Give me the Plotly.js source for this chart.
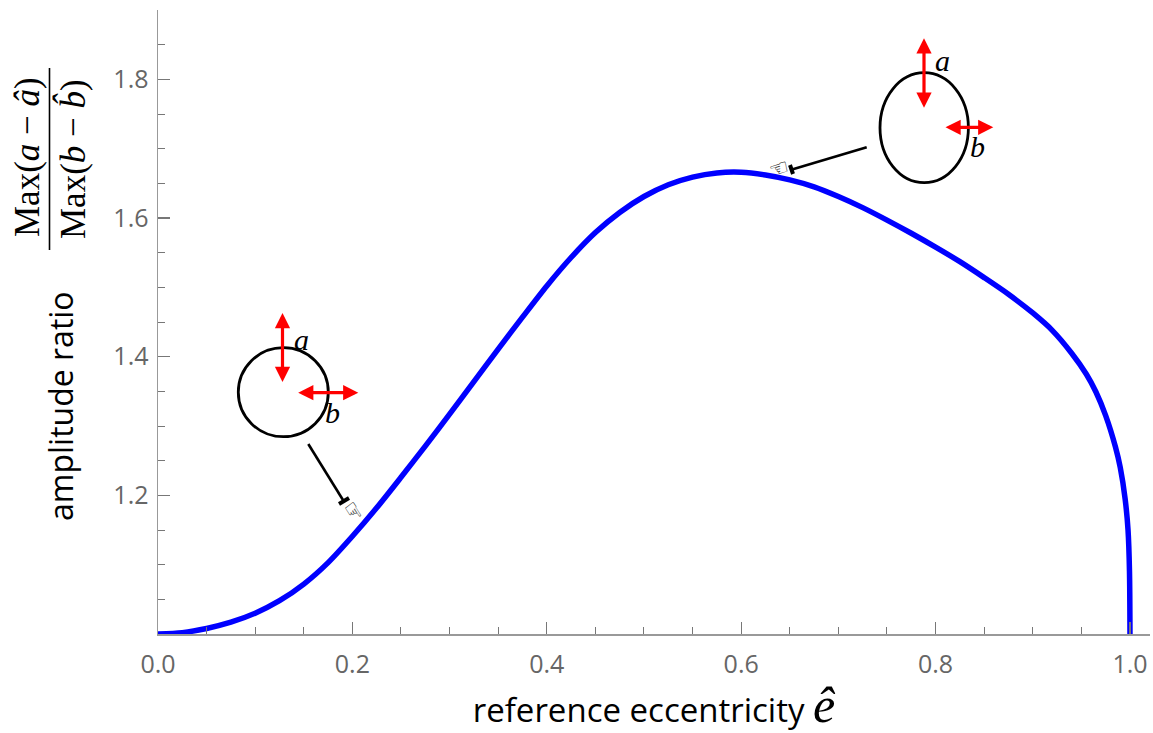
<!DOCTYPE html>
<html>
<head>
<meta charset="utf-8">
<script src="https://cdn.plot.ly/plotly-3.0.1.min.js"></script>
<style>html,body{margin:0;padding:0;background:#fff;}#chart{width:1153px;height:733px;}</style>
</head>
<body>
<div id="chart"></div>
<script>
// reference eccentricity (x) and amplitude ratio (y)
const eccentricity = [0, 0.025, 0.05, 0.075, 0.1, 0.125, 0.15, 0.175, 0.2, 0.225, 0.25, 0.275, 0.3, 0.325, 0.35, 0.375, 0.4, 0.425, 0.45, 0.475, 0.5, 0.525, 0.55, 0.575, 0.6, 0.625, 0.65, 0.675, 0.7, 0.725, 0.75, 0.775, 0.8, 0.825, 0.85, 0.875, 0.9, 0.92, 0.94, 0.955, 0.965, 0.975, 0.985, 0.99, 0.995, 0.998, 0.9995, 1.0];
const amplitudeRatio = [1.000, 1.002, 1.008, 1.017, 1.030, 1.048, 1.072, 1.103, 1.141, 1.182, 1.226, 1.271, 1.317, 1.364, 1.411, 1.457, 1.502, 1.543, 1.579, 1.608, 1.631, 1.648, 1.659, 1.665, 1.666, 1.662, 1.655, 1.645, 1.631, 1.615, 1.597, 1.578, 1.558, 1.537, 1.514, 1.490, 1.463, 1.438, 1.405, 1.375, 1.349, 1.315, 1.270, 1.240, 1.195, 1.150, 1.090, 1.000];
const xTickVals = [0, 0.2, 0.4, 0.6, 0.8, 1.0];
const xTickText = ['0.0', '0.2', '0.4', '0.6', '0.8', '1.0'];
const yTickVals = [1.2, 1.4, 1.6, 1.8];
const yTickText = ['1.2', '1.4', '1.6', '1.8'];

// plot geometry
const W = 1153, H = 733;
const mL = 158, mR = 3, mT = 10, mB = 99;
const xRange = [0, 1.0206], yRange = [1.0, 1.9];
const pw = W - mL - mR, ph = H - mT - mB;
// pixel -> data / paper helpers for decorations
const X = px => xRange[0] + (px - mL) / pw * (xRange[1] - xRange[0]);
const Y = py => yRange[0] + (H - mB - py) / ph * (yRange[1] - yRange[0]);
const PX = px => (px - mL) / pw;
const PY = py => (H - mB - py) / ph;

const serif = 'Liberation Serif, Times New Roman, serif';
const sans = 'Open Sans, Noto Sans, sans-serif';

function redArrow(x0, y0, x1, y1) {
  return {x: X(x1), y: Y(y1), ax: X(x0), ay: Y(y0), xref: 'x', yref: 'y', axref: 'x', ayref: 'y',
    text: '', showarrow: true, arrowside: 'end+start', arrowhead: 2, startarrowhead: 2,
    arrowsize: 0.95, startarrowsize: 0.95, arrowwidth: 3.2, arrowcolor: '#ff0000', standoff: 0, startstandoff: 0};
}
function label(txt, px, py) {
  return {x: X(px), y: Y(py), xref: 'x', yref: 'y', xanchor: 'center', yanchor: 'middle',
    text: '<i>' + txt + '</i>', showarrow: false, font: {family: serif, size: 30, color: '#000'}};
}
function ytitle(txt, px, py, family, size) {
  return {x: PX(px), y: PY(py), xref: 'paper', yref: 'paper', xanchor: 'center', yanchor: 'middle',
    text: txt, showarrow: false, textangle: -90, font: {family: family, size: size, color: '#000'}};
}

const trace = {
  x: eccentricity, y: amplitudeRatio, type: 'scatter', mode: 'lines',
  line: {color: '#0000ff', width: 5.5, shape: 'spline', smoothing: 0.8},
  cliponaxis: false, hoverinfo: 'skip'
};

const layout = {
  width: W, height: H,
  margin: {l: mL, r: mR, t: mT, b: mB, pad: 0},
  paper_bgcolor: '#fff', plot_bgcolor: '#fff',
  showlegend: false,
  xaxis: {
    range: xRange, showgrid: false, zeroline: false,
    showline: true, linecolor: '#999', linewidth: 1.5,
    tickmode: 'array', tickvals: xTickVals, ticktext: xTickText,
    ticks: 'inside', ticklen: 12, tickwidth: 1.2, tickcolor: '#777',
    minor: {tickmode: 'linear', tick0: 0, dtick: 0.05, ticks: 'inside', ticklen: 7, tickwidth: 1, tickcolor: '#777', showgrid: false},
    tickfont: {family: sans, size: 25, color: '#666'},
    ticklabelstandoff: 7,
    title: {text: 'reference eccentricity <span style="font-family:Liberation Serif;font-size:50px"><i>ê</i></span>',
      font: {family: sans, size: 33, color: '#000'}, standoff: 14}
  },
  yaxis: {
    range: yRange, showgrid: false, zeroline: false,
    showline: true, linecolor: '#999', linewidth: 1.5,
    tickmode: 'array', tickvals: yTickVals, ticktext: yTickText,
    ticks: 'inside', ticklen: 12, tickwidth: 1.2, tickcolor: '#777',
    minor: {tickmode: 'linear', tick0: 1.0, dtick: 0.05, ticks: 'inside', ticklen: 7, tickwidth: 1, tickcolor: '#777', showgrid: false},
    tickfont: {family: sans, size: 25, color: '#666'},
    ticklabelstandoff: 3
  },
  shapes: [
    {type: 'circle', xref: 'x', yref: 'y', x0: X(283.3 - 45), x1: X(283.3 + 45), y0: Y(392.2 + 44.5), y1: Y(392.2 - 44.5),
      line: {color: '#000', width: 2.8}},
    {type: 'circle', xref: 'x', yref: 'y', x0: X(924.2 - 44.2), x1: X(924.2 + 44.2), y0: Y(127.7 + 55), y1: Y(127.7 - 55),
      line: {color: '#000', width: 2.8}},
    {type: 'line', xref: 'x', yref: 'y', x0: X(308.3), y0: Y(444), x1: X(343), y1: Y(500), line: {color: '#000', width: 2.6}},
    {type: 'line', xref: 'x', yref: 'y', x0: X(866.7), y0: Y(147.3), x1: X(792), y1: Y(169.5), line: {color: '#000', width: 2.6}},
    // cuffs of the pointing hands
    {type: 'line', xref: 'x', yref: 'y', x0: X(339), y0: Y(504), x1: X(349), y1: Y(498), line: {color: '#000', width: 4}},
    {type: 'line', xref: 'x', yref: 'y', x0: X(790), y0: Y(165), x1: X(793), y1: Y(174), line: {color: '#000', width: 4}},
    // fraction bar of the y title
    {type: 'line', xref: 'paper', yref: 'paper', x0: PX(49.5), x1: PX(49.5), y0: PY(68), y1: PY(250), line: {color: '#000', width: 1.6}}
  ],
  annotations: [
    redArrow(282.5, 383.5, 282.5, 313),
    redArrow(296.7, 392.7, 358.3, 392.7),
    redArrow(924, 109.3, 924, 38.3),
    redArrow(944, 127.3, 993.3, 127.3),
    label('a', 301, 339),
    label('b', 332.3, 412),
    label('a', 942, 60),
    label('b', 977, 146),
    {x: X(354), y: Y(511), xref: 'x', yref: 'y', xanchor: 'center', yanchor: 'middle', text: '☞', showarrow: false, textangle: 57,
      font: {family: 'DejaVu Sans', size: 22, color: '#000'}},
    {x: X(779), y: Y(168), xref: 'x', yref: 'y', xanchor: 'center', yanchor: 'middle', text: '☜', showarrow: false, textangle: -17,
      font: {family: 'DejaVu Sans', size: 22, color: '#000'}},
    ytitle('amplitude ratio', 60, 406, sans, 32),
    ytitle('Max(<i>a</i> − <i>â</i>)', 27, 157, serif, 35),
    ytitle('Max(<i>b</i> − <i>b̂</i>)', 72, 159, serif, 35)
  ]
};

Plotly.newPlot('chart', [trace], layout, {displayModeBar: false, staticPlot: true});
</script>
</body>
</html>
